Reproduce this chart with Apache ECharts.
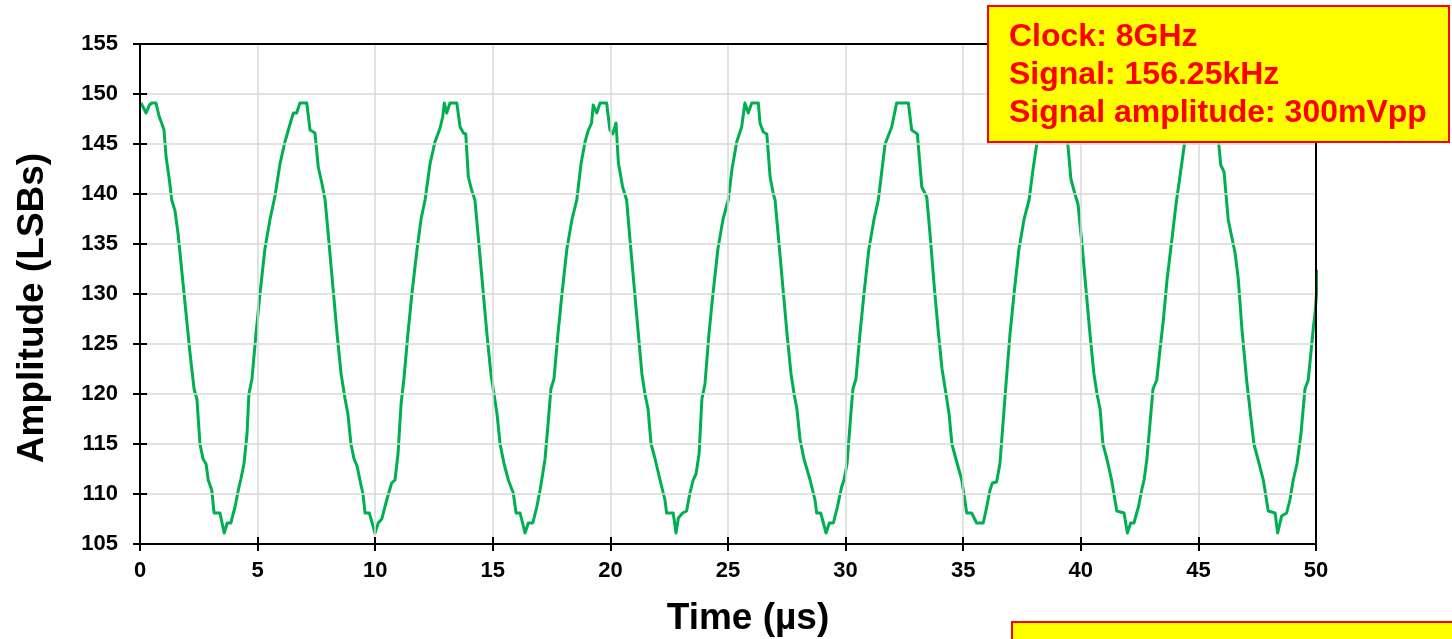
<!DOCTYPE html>
<html>
<head>
<meta charset="utf-8">
<script src="https://cdn.jsdelivr.net/npm/echarts@6/dist/echarts.min.js"></script>
<style>
html,body{margin:0;padding:0;background:#fff;}
#chart{width:1452px;height:639px;}
</style>
</head>
<body>
<div id="chart"></div>
<script>
// ---- data ----
const xTicks = [0, 5, 10, 15, 20, 25, 30, 35, 40, 45, 50];
const yTicks = [105, 110, 115, 120, 125, 130, 135, 140, 145, 150, 155];
const annotationLines = ['Clock: 8GHz', 'Signal: 156.25kHz', 'Signal amplitude: 300mVpp'];

const timeUs = [
0.04,0.26,0.40,0.50,0.68,0.82,0.92,1.02,1.11,1.25,1.35,1.49,1.62,1.79,1.96,2.13,2.30,2.42,2.55,2.68,2.81,2.90,3.05,3.15,3.40,3.58,3.71,3.86,4.04,4.18,4.28,4.42,4.55,4.63,4.76,4.93,5.10,5.31,5.53,5.74,5.95,6.16,6.38,6.52,6.66,6.80,7.09,7.23,7.44,7.58,7.74,7.87,
8.04,8.21,8.38,8.55,8.72,8.84,8.97,9.10,9.23,9.35,9.48,9.57,9.75,9.99,10.13,10.28,10.49,10.70,10.84,10.97,11.10,11.22,11.39,11.56,11.78,11.95,12.12,12.33,12.54,12.76,12.87,12.94,13.04,13.18,13.47,13.61,13.75,13.85,13.96,14.10,14.24,
14.41,14.58,14.75,14.92,15.05,15.18,15.31,15.48,15.66,15.87,15.99,16.16,16.37,16.51,16.70,16.87,17.01,17.08,17.22,17.35,17.47,17.60,17.77,17.94,18.15,18.37,18.57,18.75,18.92,19.05,19.20,19.27,19.42,19.56,19.84,19.98,20.10,20.24,20.34,20.52,20.69,
20.83,21.00,21.17,21.34,21.47,21.60,21.73,21.90,22.11,22.32,22.39,22.67,22.79,22.89,23.07,23.24,23.38,23.52,23.64,23.77,23.89,24.02,24.19,24.36,24.57,24.79,25.01,25.17,25.37,25.58,25.72,25.86,26.01,26.29,26.36,26.50,26.65,26.79,26.93,27.00,
27.17,27.34,27.51,27.68,27.81,27.93,28.06,28.23,28.49,28.70,28.77,28.94,29.17,29.31,29.48,29.65,29.83,29.93,30.06,30.19,30.31,30.44,30.61,30.78,30.99,31.21,31.39,31.55,31.68,31.96,32.17,32.67,32.81,33.05,33.24,33.45,
33.59,33.76,33.93,34.10,34.27,34.40,34.52,34.69,34.94,35.15,35.36,35.57,35.85,36.00,36.14,36.24,36.42,36.56,36.69,36.82,36.99,37.16,37.37,37.59,37.80,37.97,38.14,38.35,38.52,38.65,38.78,39.07,39.20,39.41,39.58,39.75,39.88,
40.05,40.22,40.39,40.56,40.69,40.82,40.94,41.11,41.31,41.53,41.84,41.98,42.12,42.26,42.45,42.59,42.69,42.81,42.94,43.07,43.23,43.37,43.51,43.67,43.87,44.05,44.26,44.43,44.64,44.81,44.98,45.11,45.54,45.66,45.85,45.95,46.09,46.27,
46.56,46.70,46.85,47.05,47.19,47.36,47.53,47.76,47.97,48.26,48.37,48.54,48.75,48.89,49.03,49.19,49.36,49.53,49.67,49.89,49.96,50.10
];

const amplitudeLsb = [
149.1,148.1,148.9,149.1,149.1,147.7,147.1,146.4,143.7,141.4,139.4,138.3,136.0,132.0,128.0,124.0,120.5,119.5,115.0,113.5,113.0,111.4,110.4,108.1,108.1,106.1,107.1,107.1,108.7,110.4,111.4,113.0,116.0,120.0,121.5,126.0,130.0,134.5,137.5,139.8,143.0,145.2,147.0,148.1,148.1,149.1,149.1,146.4,146.1,142.7,141.0,139.4,
135.0,130.5,126.0,122.0,119.5,118.0,115.0,113.5,112.8,111.4,110.0,108.1,108.1,106.1,107.1,107.5,109.4,111.1,111.4,114.0,119.0,121.5,126.0,130.0,134.5,137.5,139.4,143.0,145.2,146.6,147.7,149.1,148.1,149.1,149.1,146.7,146.1,146.0,141.7,140.4,139.4,
135.0,130.5,126.0,122.0,120.0,118.0,115.0,113.0,111.4,110.1,108.1,108.1,106.1,107.1,107.1,108.7,110.4,111.4,113.5,117.0,120.5,121.5,126.0,130.0,134.5,137.5,139.4,143.0,145.2,146.3,147.1,148.9,148.1,149.1,149.1,146.4,146.0,147.1,143.1,140.7,139.4,
135.5,131.0,126.5,122.0,120.0,118.5,115.0,113.5,111.4,109.4,108.1,108.1,106.1,107.6,108.1,108.3,110.1,111.4,112.0,114.0,119.5,121.0,126.0,130.0,134.5,137.5,139.4,142.5,145.2,146.7,149.1,148.1,149.1,149.1,147.1,146.2,146.0,141.7,140.0,139.4,
135.0,130.5,126.0,122.0,120.0,118.5,115.5,113.5,111.4,109.4,108.1,108.1,106.1,107.1,107.1,108.7,110.7,111.4,113.0,117.0,120.5,121.5,126.0,130.0,134.5,137.5,139.4,142.5,145.0,146.7,149.1,149.1,146.4,146.0,140.7,139.7,
136.0,131.0,126.5,122.5,120.0,118.0,115.0,113.5,111.4,108.1,108.1,107.1,107.1,108.7,110.4,111.1,111.2,113.0,117.0,121.0,126.0,130.0,134.5,137.5,139.4,142.5,145.2,147.0,149.0,148.2,149.0,149.0,146.5,146.0,141.5,140.0,139.0,
135.0,130.5,126.0,122.0,120.0,118.5,115.0,113.5,111.4,108.3,108.1,106.1,107.1,107.1,108.7,110.4,111.4,113.5,117.0,120.5,121.4,124.5,127.4,131.5,135.4,139.0,142.5,145.4,147.0,149.0,148.2,149.0,149.0,146.5,145.4,142.9,142.2,137.4,
134.1,131.4,126.5,121.4,118.5,115.0,113.5,111.4,108.3,108.1,106.1,107.8,108.1,109.4,111.4,113.0,116.0,120.5,121.4,126.7,128.1,132.4
];

const seriesData = timeUs.map((t, i) => [t, amplitudeLsb[i]]);

const FONT = '"Liberation Sans", Arial, Helvetica, sans-serif';

const chart = echarts.init(document.getElementById('chart'), null, {renderer: 'canvas'});

const tickLabelStyle = {color: '#000', fontFamily: FONT, fontWeight: 'bold', fontSize: 22};
const xMin = xTicks[0], xMax = xTicks[xTicks.length - 1];
const yMin = yTicks[0], yMax = yTicks[yTicks.length - 1];

function frameAxis(pos) {
  return {
    type: 'value', position: pos, min: pos === 'top' ? xMin : yMin, max: pos === 'top' ? xMax : yMax, interval: 5,
    axisLine: {show: true, onZero: false, lineStyle: {color: '#000', width: 2}},
    axisTick: {show: false}, axisLabel: {show: false}, splitLine: {show: false}, z: 5
  };
}

chart.setOption({
  animation: false,
  backgroundColor: '#ffffff',
  grid: {
    left: 140, right: 136, top: 44, bottom: 95,
    show: false, containLabel: false, outerBoundsMode: 'none'
  },
  xAxis: [
    {
      type: 'value', position: 'bottom', min: xMin, max: xMax, interval: 5,
      name: 'Time (µs)', nameLocation: 'middle', nameGap: 56,
      nameTextStyle: {color: '#000', fontFamily: FONT, fontWeight: 'bold', fontSize: 37, padding: [0, 0, 0, 40]},
      axisLine: {show: true, onZero: false, lineStyle: {color: '#000', width: 2}},
      axisTick: {show: true, inside: false, length: 7, lineStyle: {color: '#000', width: 2}},
      axisLabel: Object.assign({margin: 16}, tickLabelStyle),
      splitLine: {show: true, lineStyle: {color: '#d9d9d9', width: 1.5}},
      z: 5
    },
    {
      type: 'value', position: 'bottom', min: xMin, max: xMax, interval: 5,
      axisLine: {show: true, onZero: false, lineStyle: {color: '#000', width: 2}},
      axisTick: {show: true, inside: true, length: 7, lineStyle: {color: '#000', width: 2}},
      axisLabel: {show: false},
      splitLine: {show: false},
      z: 5
    },
    frameAxis('top')
  ],
  yAxis: [
    {
      type: 'value', position: 'left', min: yMin, max: yMax, interval: 5,
      name: 'Amplitude (LSBs)', nameLocation: 'middle', nameGap: 89, nameRotate: 90,
      nameTextStyle: {color: '#000', fontFamily: FONT, fontWeight: 'bold', fontSize: 37, padding: [0, 28, 0, 0]},
      axisLine: {show: true, onZero: false, lineStyle: {color: '#000', width: 2}},
      axisTick: {show: true, inside: false, length: 7, lineStyle: {color: '#000', width: 2}},
      axisLabel: Object.assign({margin: 22}, tickLabelStyle),
      splitLine: {show: true, lineStyle: {color: '#d9d9d9', width: 1.5}},
      z: 5
    },
    {
      type: 'value', position: 'left', min: yMin, max: yMax, interval: 5,
      axisLine: {show: true, onZero: false, lineStyle: {color: '#000', width: 2}},
      axisTick: {show: true, inside: true, length: 7, lineStyle: {color: '#000', width: 2}},
      axisLabel: {show: false},
      splitLine: {show: false},
      z: 5
    },
    frameAxis('right')
  ],
  series: [{
    type: 'line',
    xAxisIndex: 0, yAxisIndex: 0,
    data: seriesData,
    showSymbol: false,
    clip: false,
    lineStyle: {color: '#00b050', width: 3, join: 'round'},
    z: 3
  }],
  graphic: [
    {
      type: 'rect', z: 100,
      shape: {x: 988, y: 6, width: 461, height: 136},
      style: {fill: '#ffff00', stroke: '#ff0000', lineWidth: 2}
    },
    {
      type: 'text', z: 101, left: 1009, top: 18,
      style: {
        text: annotationLines.join('\n'),
        fill: '#ff0000', font: 'bold 32px ' + FONT, lineHeight: 38
      }
    },
    {
      type: 'rect', z: 100,
      shape: {x: 1012, y: 622, width: 460, height: 40},
      style: {fill: '#ffff00', stroke: '#ff0000', lineWidth: 2}
    }
  ]
});
</script>
</body>
</html>
